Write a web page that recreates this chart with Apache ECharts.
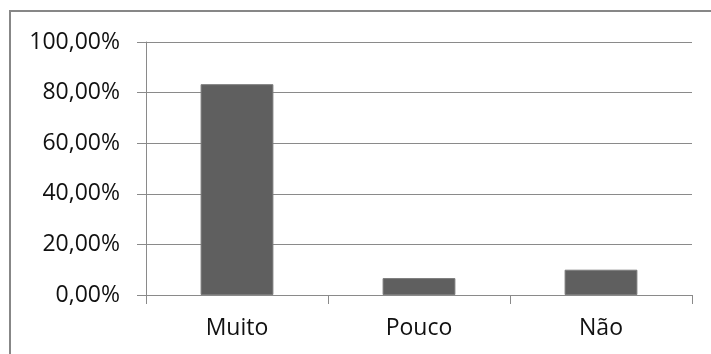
<!DOCTYPE html>
<html>
<head>
<meta charset="utf-8">
<script src="https://cdn.jsdelivr.net/npm/echarts@6/dist/echarts.min.js"></script>
<style>
  html, body { margin: 0; padding: 0; background: #ffffff; }
  #chart { width: 711px; height: 354px; }
</style>
</head>
<body>
<div id="chart"></div>
<script>
// Answer categories and their share of responses (percent)
const categories = ['Muito', 'Pouco', 'Não'];
const shares = [83.33, 6.67, 10.0];
// Value axis range and step (percent)
const axisMin = 0;
const axisMax = 100;
const axisStep = 20;

const lineGray = '#8a8a8a';
const labelFont = { fontFamily: 'Open Sans', fontSize: 23, color: '#111111' };

const chart = echarts.init(document.getElementById('chart'), null, { renderer: 'canvas' });

chart.setOption({
  animation: false,
  backgroundColor: '#ffffff',
  graphic: [{
    type: 'rect',
    shape: { x: 10, y: 11, width: 760, height: 400 },
    style: { fill: 'none', stroke: '#878787', lineWidth: 2 },
    silent: true
  }],
  grid: { left: 146, right: 19, top: 42, bottom: 59, containLabel: false },
  xAxis: {
    type: 'category',
    data: categories,
    axisLine: { show: true, lineStyle: { color: lineGray, width: 1 } },
    axisTick: { show: true, length: 9, alignWithLabel: false, lineStyle: { color: lineGray } },
    axisLabel: { margin: 22, ...labelFont },
    splitLine: { show: false }
  },
  yAxis: {
    type: 'value',
    min: axisMin,
    max: axisMax,
    interval: axisStep,
    axisLine: { show: true, lineStyle: { color: lineGray, width: 1 } },
    axisTick: { show: true, length: 9, lineStyle: { color: lineGray } },
    axisLabel: {
      margin: 26,
      ...labelFont,
      formatter: v => v.toFixed(2).replace('.', ',') + '%'
    },
    splitLine: { show: true, lineStyle: { color: lineGray, width: 1 } }
  },
  series: [{
    type: 'bar',
    data: shares,
    barWidth: '40%',
    itemStyle: { color: '#5f5f5f', borderColor: '#7a7a7a', borderWidth: 1 }
  }]
});
</script>
</body>
</html>
